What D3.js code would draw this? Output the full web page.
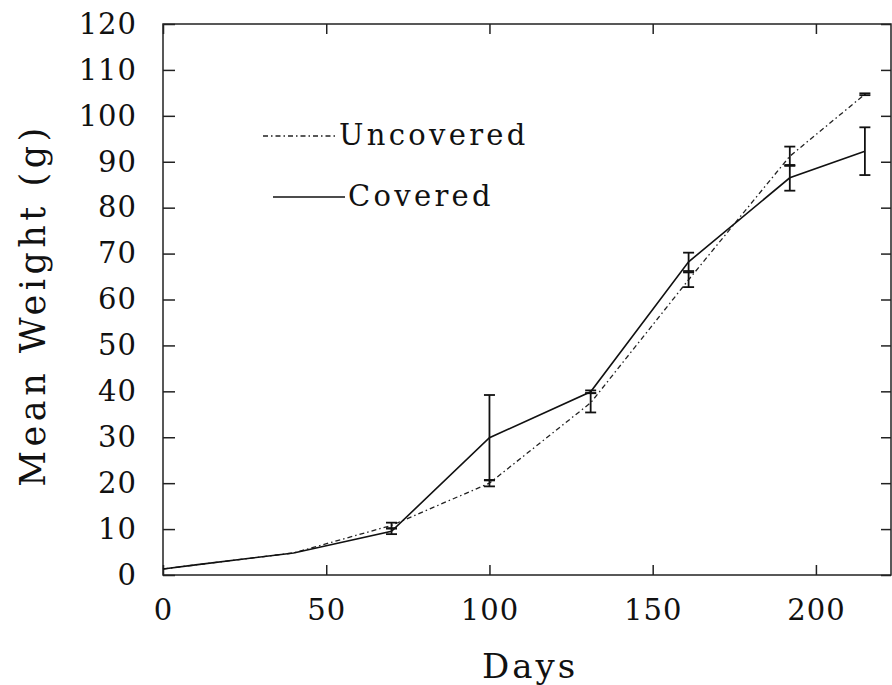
<!DOCTYPE html>
<html>
<head>
<meta charset="utf-8">
<script src="https://cdn.jsdelivr.net/npm/d3@7"></script>
<style>
  body { margin: 0; background: #fff; }
  svg { display: block; }
  text { font-family: "DejaVu Serif", "Liberation Serif", serif; fill: #111; }
  .tick text { font-size: 29px; letter-spacing: 1px; }
  .axis-label { font-size: 34px; letter-spacing: 3px; }
  .y-label { font-size: 35px; letter-spacing: 4.5px; }
  .legend text { font-size: 29px; letter-spacing: 3.3px; }
</style>
</head>
<body>
<svg id="chart" width="892" height="685"></svg>
<script>
// Mean weight over time, covered vs uncovered
const days = [0, 10, 40, 70, 100, 131, 161, 192, 215];
const covered = [1.3, 2.2, 4.8, 9.5, 29.9, 39.9, 68.2, 86.5, 92.3];
const coveredErr = [0, 0, 0, 0.6, 9.3, 0.3, 2.0, 2.8, 5.2];
const uncovered = [1.3, 2.2, 4.8, 10.8, 20.0, 37.5, 64.3, 91.2, 104.7];
const uncoveredErr = [0, 0, 0, 0.6, 0.7, 2.1, 1.6, 2.1, 0.2];
const xTicks = [0, 50, 100, 150, 200];
const yTicks = [0, 10, 20, 30, 40, 50, 60, 70, 80, 90, 100, 110, 120];

(function() {
  const svg = d3.select("#chart");
  const left = 163, right = 891, top = 24, bottom = 575;

  const x = d3.scaleLinear().domain([0, 223]).range([left, right]);
  const y = d3.scaleLinear().domain([0, 120]).range([bottom, top]);

  // frame
  svg.append("rect")
    .attr("x", left).attr("y", top)
    .attr("width", right - left).attr("height", bottom - top)
    .attr("fill", "none").attr("stroke", "#222").attr("stroke-width", 1.5);

  // axes with inward ticks
  svg.append("g")
    .attr("transform", `translate(0,${bottom})`)
    .call(d3.axisBottom(x).tickValues(xTicks).tickSizeInner(-10).tickSizeOuter(0).tickPadding(24))
    .call(g => g.select(".domain").remove());
  svg.append("g")
    .attr("transform", `translate(${left},0)`)
    .call(d3.axisLeft(y).tickValues(yTicks).tickSizeInner(-12).tickSizeOuter(0).tickPadding(26))
    .call(g => g.select(".domain").remove());
  svg.append("g")
    .attr("transform", `translate(0,${top})`)
    .call(d3.axisTop(x).tickValues(xTicks).tickSizeInner(-10).tickSizeOuter(0).tickFormat(""))
    .call(g => g.select(".domain").remove());
  svg.append("g")
    .attr("transform", `translate(${right},0)`)
    .call(d3.axisRight(y).tickValues(yTicks).tickSizeInner(-10).tickSizeOuter(0).tickFormat(""))
    .call(g => g.select(".domain").remove());

  svg.selectAll(".tick line").attr("stroke", "#222").attr("stroke-width", 1.5);

  // axis labels
  svg.append("text")
    .attr("class", "axis-label")
    .attr("x", 530).attr("y", 678)
    .attr("text-anchor", "middle")
    .text("Days");
  svg.append("text")
    .attr("class", "y-label")
    .attr("transform", `translate(45,305) rotate(-90)`)
    .attr("text-anchor", "middle")
    .text("Mean Weight (g)");

  const line = d3.line().x(d => x(d[0])).y(d => y(d[1]));

  function errorBars(vals, errs) {
    const g = svg.append("g").attr("stroke", "#111").attr("stroke-width", 1.8);
    days.forEach((dd, i) => {
      if (!errs[i]) return;
      const cx = x(dd), y1 = y(vals[i] + errs[i]), y2 = y(vals[i] - errs[i]);
      g.append("line").attr("x1", cx).attr("x2", cx).attr("y1", y1).attr("y2", y2);
      g.append("line").attr("x1", cx - 5.5).attr("x2", cx + 5.5).attr("y1", y1).attr("y2", y1);
      g.append("line").attr("x1", cx - 5.5).attr("x2", cx + 5.5).attr("y1", y2).attr("y2", y2);
    });
  }

  // uncovered: dash-dot
  svg.append("path")
    .datum(days.map((d, i) => [d, uncovered[i]]))
    .attr("fill", "none").attr("stroke", "#222")
    .attr("stroke-width", 1.3)
    .attr("stroke-dasharray", "5,3,1.5,3")
    .attr("d", line);
  errorBars(uncovered, uncoveredErr);

  // covered: solid
  svg.append("path")
    .datum(days.map((d, i) => [d, covered[i]]))
    .attr("fill", "none").attr("stroke", "#111")
    .attr("stroke-width", 1.6)
    .attr("d", line);
  errorBars(covered, coveredErr);

  // legend
  const lg = svg.append("g").attr("class", "legend");
  lg.append("line")
    .attr("x1", 263).attr("x2", 335).attr("y1", 136).attr("y2", 136)
    .attr("stroke", "#222").attr("stroke-width", 1.3)
    .attr("stroke-dasharray", "5,3,1.5,3");
  lg.append("text").attr("x", 339).attr("y", 145).text("Uncovered");
  lg.append("line")
    .attr("x1", 273).attr("x2", 345).attr("y1", 197).attr("y2", 197)
    .attr("stroke", "#111").attr("stroke-width", 1.6);
  lg.append("text").attr("x", 348).attr("y", 206).text("Covered");
})();
</script>
</body>
</html>
